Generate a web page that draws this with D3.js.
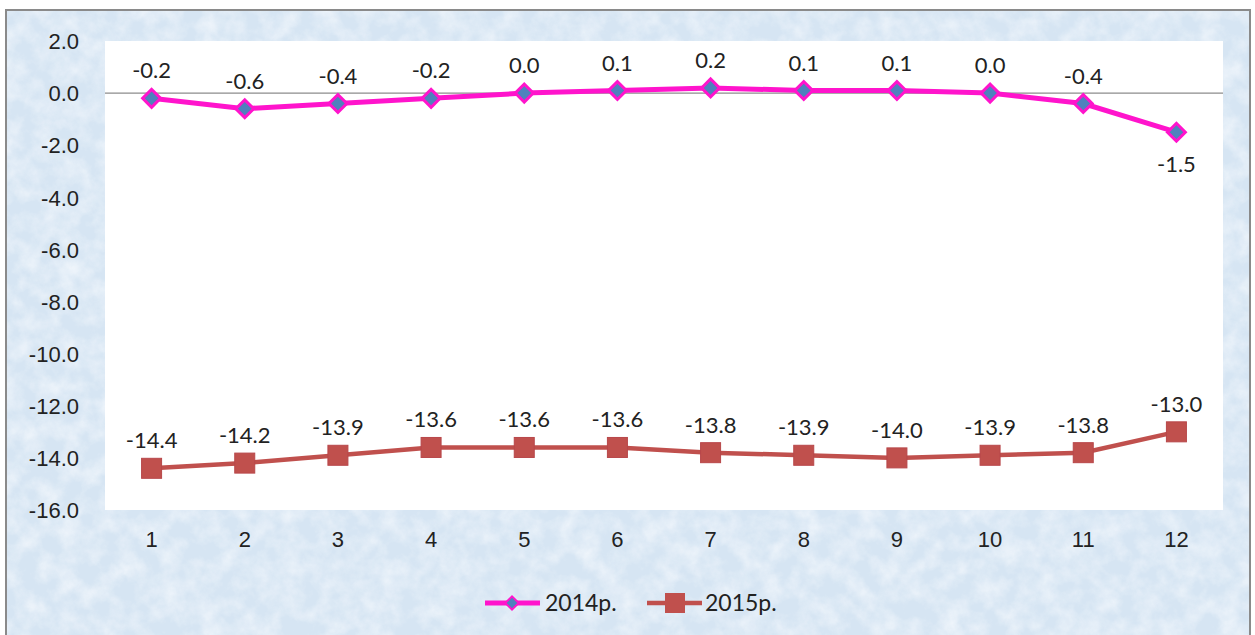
<!DOCTYPE html>
<html>
<head>
<meta charset="utf-8">
<script src="https://cdn.jsdelivr.net/npm/d3@7/dist/d3.min.js"></script>
<style>
  body { margin: 0; background: #fff; }
  svg { display: block; font-family: Lato, "Open Sans", sans-serif; }
</style>
</head>
<body>
<svg id="chart" width="1255" height="635"></svg>
<script>
// data
let months = ["1", "2", "3", "4", "5", "6", "7", "8", "9", "10", "11", "12"];
let values2014 = [-0.2, -0.6, -0.4, -0.2, 0.0, 0.1, 0.2, 0.1, 0.1, 0.0, -0.4, -1.5];
let values2015 = [-14.4, -14.2, -13.9, -13.6, -13.6, -13.6, -13.8, -13.9, -14.0, -13.9, -13.8, -13.0];
let yTicks = [2, 0, -2, -4, -6, -8, -10, -12, -14, -16];
let seriesNames = ["2014р.", "2015р."];

let svg = d3.select("#chart");
let plotLeft = 105, plotRight = 1223, plotTop = 41, plotBottom = 510;

// plain hyphen instead of unicode minus
let fmt = d3.formatLocale({decimal: ".", thousands: ",", grouping: [3], currency: ["", ""], minus: "-"}).format(".1f");

// textured light blue background
let defs = svg.append("defs");
let filt = defs.append("filter").attr("id", "tex").attr("x", 0).attr("y", 0).attr("width", 1).attr("height", 1);
filt.append("feTurbulence").attr("type", "fractalNoise").attr("baseFrequency", 0.05).attr("numOctaves", 4).attr("seed", 7).attr("result", "n");
filt.append("feColorMatrix").attr("in", "n").attr("type", "matrix")
  .attr("values", "0 0 0 0 0.97  0 0 0 0 0.98  0 0 0 0 1.0  1.6 0 0 0 -0.55");
filt.append("feComposite").attr("in2", "SourceGraphic").attr("operator", "in");

svg.append("rect").attr("x", 0).attr("y", 0).attr("width", 1255).attr("height", 635).attr("fill", "#fff");
svg.append("rect").attr("x", 6).attr("y", 10).attr("width", 1244).attr("height", 630)
  .attr("fill", "#d6e5f3");
svg.append("rect").attr("x", 6).attr("y", 10).attr("width", 1244).attr("height", 630)
  .attr("fill", "#fff").attr("filter", "url(#tex)").attr("opacity", 0.7);
svg.append("rect").attr("x", 6).attr("y", 10).attr("width", 1244).attr("height", 630)
  .attr("fill", "none").attr("stroke", "#8a8a8a").attr("stroke-width", 2);

// plot area
svg.append("rect").attr("x", plotLeft).attr("y", plotTop)
  .attr("width", plotRight - plotLeft).attr("height", plotBottom - plotTop)
  .attr("fill", "#fff");

let xScale = d3.scaleBand().domain(months).range([plotLeft, plotRight]);
let yScale = d3.scaleLinear().domain([-16, 2]).range([plotBottom, plotTop]);
let cx = d => xScale(d) + xScale.bandwidth() / 2;

// zero line
svg.append("line")
  .attr("x1", plotLeft).attr("x2", plotRight)
  .attr("y1", yScale(0)).attr("y2", yScale(0))
  .attr("stroke", "#8c8c8c").attr("stroke-width", 1.2);

// axes
let yAxis = d3.axisLeft(yScale).tickValues(yTicks).tickFormat(fmt).tickSize(0).tickPadding(26);
svg.append("g").attr("transform", "translate(" + plotLeft + ",0)").call(yAxis)
  .call(g => g.select(".domain").remove())
  .selectAll("text").style("font-size", "22px").attr("fill", "#222")
  .attr("dy", "0.35em");

let xAxis = d3.axisBottom(xScale).tickSize(0).tickPadding(21);
svg.append("g").attr("transform", "translate(0," + plotBottom + ")").call(xAxis)
  .call(g => g.select(".domain").remove())
  .selectAll("text").style("font-size", "22px").attr("fill", "#222");

let line = d3.line().x((d, i) => cx(months[i])).y(d => yScale(d));

// 2015 series
svg.append("path").datum(values2015)
  .attr("d", line).attr("fill", "none").attr("stroke", "#c0504d").attr("stroke-width", 4.5);
svg.selectAll(".sq").data(values2015).enter().append("rect")
  .attr("x", (d, i) => cx(months[i]) - 10).attr("y", d => yScale(d) - 10)
  .attr("width", 20).attr("height", 20)
  .attr("fill", "#c0504d").attr("stroke", "#b8474a").attr("stroke-width", 1);
svg.selectAll(".lb15").data(values2015).enter().append("text")
  .attr("x", (d, i) => cx(months[i])).attr("y", d => yScale(d) - 20)
  .attr("text-anchor", "middle").style("font-size", "22px").attr("fill", "#222")
  .text(d => fmt(d));

// 2014 series
let diamond = d3.symbol().type(d3.symbolSquare).size(160);
svg.append("path").datum(values2014)
  .attr("d", line).attr("fill", "none").attr("stroke", "#ff14cc").attr("stroke-width", 5);
svg.selectAll(".dm").data(values2014).enter().append("path")
  .attr("d", diamond)
  .attr("transform", (d, i) => "translate(" + cx(months[i]) + "," + yScale(d) + ") rotate(45)")
  .attr("fill", "#4f81bd").attr("stroke", "#ff14cc").attr("stroke-width", 3);
svg.selectAll(".lb14").data(values2014).enter().append("text")
  .attr("x", (d, i) => cx(months[i]))
  .attr("y", (d, i) => i === 11 ? yScale(d) + 40 : yScale(d) - 20)
  .attr("text-anchor", "middle").style("font-size", "22px").attr("fill", "#222")
  .text(d => fmt(d));

// legend
let legend = svg.append("g").attr("transform", "translate(0,603)");
let lg1 = legend.append("g").attr("transform", "translate(485,0)");
lg1.append("line").attr("x1", 0).attr("x2", 55).attr("stroke", "#ff14cc").attr("stroke-width", 5);
lg1.append("path").attr("d", d3.symbol().type(d3.symbolSquare).size(90))
  .attr("transform", "translate(27,0) rotate(45)")
  .attr("fill", "#4f81bd").attr("stroke", "#ff14cc").attr("stroke-width", 2);
lg1.append("text").attr("x", 60).attr("dy", "0.35em").style("font-size", "23px").attr("fill", "#222")
  .text(seriesNames[0]);

let lg2 = legend.append("g").attr("transform", "translate(647,0)");
lg2.append("line").attr("x1", 0).attr("x2", 55).attr("stroke", "#c0504d").attr("stroke-width", 4.5);
lg2.append("rect").attr("x", 18).attr("y", -10).attr("width", 20).attr("height", 20).attr("fill", "#c0504d");
lg2.append("text").attr("x", 58).attr("dy", "0.35em").style("font-size", "23px").attr("fill", "#222")
  .text(seriesNames[1]);
</script>
</body>
</html>
